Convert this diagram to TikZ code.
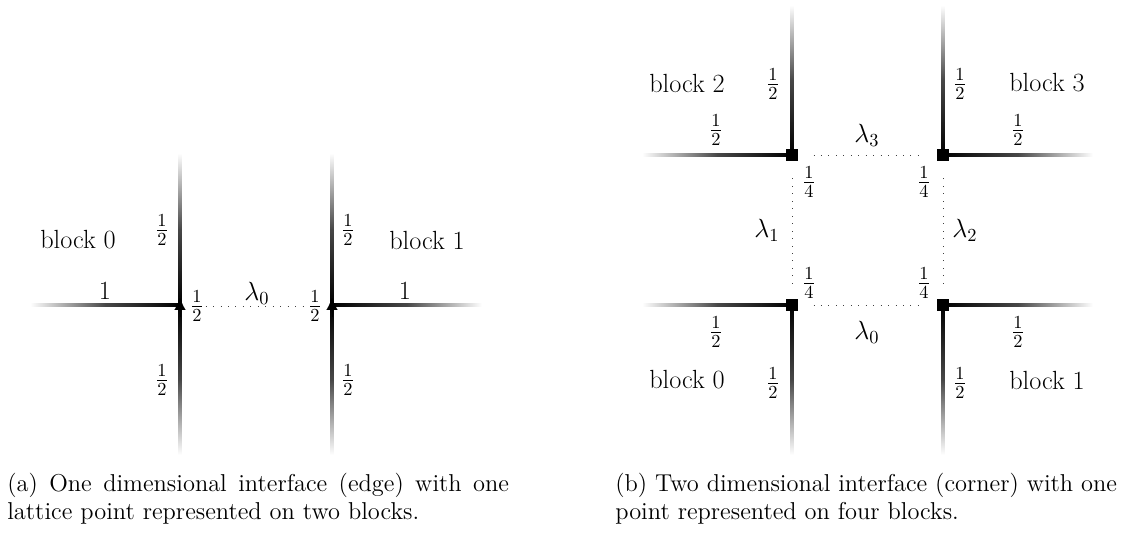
\RequirePackage{fix-cm}
\documentclass[tikz,border=0pt]{standalone}
\usepackage{amsmath}
\usetikzlibrary{arrows.meta, positioning, calc}

\begin{document}
\begin{tikzpicture}[
    x=0.59pt, y=-0.59pt,
    every node/.style={font=\fontsize{15.5}{18}\selectfont, inner sep=1pt},
    armW/.style={left color=white, right color=black, middle color=black!72},
    armE/.style={left color=black, right color=white, middle color=black!72},
    armN/.style={top color=white, bottom color=black, middle color=black!72},
    armS/.style={top color=black, bottom color=white, middle color=black!72},
    corner/.style={rectangle, fill=black, minimum size=7pt, inner sep=0pt},
    tip/.style={-{Latex[length=7pt, width=6.5pt]}, line width=0.1pt},
    link/.style={loosely dotted, black!75},
    capt/.style={font=\fontsize{14.4}{16.5}\selectfont, text width=296pt, align=justify, inner sep=0pt, anchor=north west}
]
\useasboundingbox (0,0) rectangle (1130,534);

% (a) edge: two lattice points
\coordinate (ja0) at (180,305);
\coordinate (ja1) at (332,305);

\shade[armW] ($(ja0)+(-150,-1.6)$) rectangle ($(ja0)+(0,1.6)$);
\shade[armN] ($(ja0)+(-1.6,-152)$) rectangle ($(ja0)+(1.6,0)$);
\shade[armS] ($(ja0)+(-1.6,0)$) rectangle ($(ja0)+(1.6,150)$);
\shade[armE] ($(ja1)+(0,-1.6)$) rectangle ($(ja1)+(150,1.6)$);
\shade[armN] ($(ja1)+(-1.6,-152)$) rectangle ($(ja1)+(1.6,0)$);
\shade[armS] ($(ja1)+(-1.6,0)$) rectangle ($(ja1)+(1.6,150)$);

\draw[tip] ($(ja0)+(0,12)$) -- ($(ja0)+(0,-7)$);
\draw[tip] ($(ja1)+(0,12)$) -- ($(ja1)+(0,-7)$);

\node (blkA0) at (78,240) {block 0};
\node (blkA1) at (427,240) {block 1};
\node (vA0t) at (162,230) {$\frac{1}{2}$};
\node (vA0b) at (162,380) {$\frac{1}{2}$};
\node (vA1t) at (348,230) {$\frac{1}{2}$};
\node (vA1b) at (348,380) {$\frac{1}{2}$};
\node (hA0) at (105,291) {1};
\node (hA1) at (405,291) {1};
\node (wA0) at (197,306) {$\frac{1}{2}$};
\node (wA1) at (315,306) {$\frac{1}{2}$};
\node (lamA0) at (257,293) {$\lambda_0$};

\draw[link] (wA0) -- (wA1);

% (b) corner: four lattice points
\coordinate (jb0) at (792,305);
\coordinate (jb1) at (943,305);
\coordinate (jb2) at (792,155);
\coordinate (jb3) at (943,155);

\shade[armW] ($(jb0)+(-150,-1.6)$) rectangle ($(jb0)+(0,1.6)$);
\shade[armS] ($(jb0)+(-1.6,0)$) rectangle ($(jb0)+(1.6,150)$);
\shade[armE] ($(jb1)+(0,-1.6)$) rectangle ($(jb1)+(150,1.6)$);
\shade[armS] ($(jb1)+(-1.6,0)$) rectangle ($(jb1)+(1.6,150)$);
\shade[armW] ($(jb2)+(-150,-1.6)$) rectangle ($(jb2)+(0,1.6)$);
\shade[armN] ($(jb2)+(-1.6,-150)$) rectangle ($(jb2)+(1.6,0)$);
\shade[armE] ($(jb3)+(0,-1.6)$) rectangle ($(jb3)+(150,1.6)$);
\shade[armN] ($(jb3)+(-1.6,-150)$) rectangle ($(jb3)+(1.6,0)$);

\node[corner] (sq0) at (jb0) {};
\node[corner] (sq1) at (jb1) {};
\node[corner] (sq2) at (jb2) {};
\node[corner] (sq3) at (jb3) {};

\draw[link, shorten <=9pt, shorten >=9pt] (sq0) -- (sq1);
\draw[link, shorten <=9pt, shorten >=9pt] (sq2) -- (sq3);
\draw[link, shorten <=9pt, shorten >=9pt] (sq0) -- (sq2);
\draw[link, shorten <=9pt, shorten >=9pt] (sq1) -- (sq3);

\node (blkB2) at (687,83) {block 2};
\node (blkB3) at (1047,83) {block 3};
\node (blkB0) at (687,380) {block 0};
\node (blkB1) at (1047,380) {block 1};

\node (vB2) at (773,84) {$\frac{1}{2}$};
\node (vB3) at (960,84) {$\frac{1}{2}$};
\node (vB0) at (773,383) {$\frac{1}{2}$};
\node (vB1) at (960,383) {$\frac{1}{2}$};
\node (hB2) at (716,130) {$\frac{1}{2}$};
\node (hB3) at (1018,130) {$\frac{1}{2}$};
\node (hB0) at (716,332) {$\frac{1}{2}$};
\node (hB1) at (1018,332) {$\frac{1}{2}$};

\node (qB2) at (809,182) {$\frac{1}{4}$};
\node (qB3) at (924,182) {$\frac{1}{4}$};
\node (qB0) at (809,283) {$\frac{1}{4}$};
\node (qB1) at (924,283) {$\frac{1}{4}$};

\node (lamB3) at (867,135) {$\lambda_3$};
\node (lamB0) at (867,332) {$\lambda_0$};
\node (lamB1) at (767,230) {$\lambda_1$};
\node (lamB2) at (965,230) {$\lambda_2$};

% captions
\node[capt] (capA) at (7,473) {(a) One dimensional interface (edge) with one\linebreak lattice point represented on two blocks.};
\node[capt] (capB) at (615,473) {(b) Two dimensional interface (corner) with one\linebreak point represented on four blocks.};

\end{tikzpicture}
\end{document}
